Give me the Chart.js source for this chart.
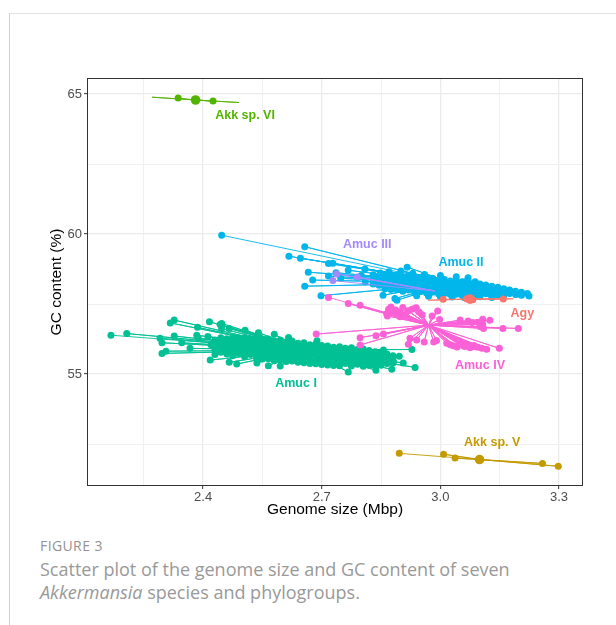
<!DOCTYPE html>
<html>
<head>
<meta charset="utf-8">
<script src="https://cdn.jsdelivr.net/npm/chart.js@4.4.1/dist/chart.umd.min.js"></script>
<style>
  body { margin: 0; background: #fff; width: 616px; height: 625px; position: relative; overflow: hidden; font-family: "Open Sans", sans-serif; }
  #frame { position: absolute; left: 9px; top: 13px; right: 0; bottom: 0; border-top: 1px solid #e2e2e2; border-left: 1px solid #d0d0d0; }
  #chart { position: absolute; left: 0; top: 0; }
  .fig { position: absolute; left: 40px; top: 536px; font-size: 14px; line-height: 19px; color: #939393; letter-spacing: 0.4px; }
  .cap { position: absolute; left: 40px; top: 558px; font-size: 18px; line-height: 23px; color: #999999; width: 570px; }
</style>
</head>
<body>
<div id="frame"></div>
<canvas id="chart" width="616" height="530"></canvas>
<div class="fig">FIGURE 3</div>
<div class="cap">Scatter plot of the genome size and GC content of seven<br><i>Akkermansia</i> species and phylogroups.</div>
<script>
// axis ticks
const xMajorTicks = [2.4, 2.7, 3.0, 3.3];
const xMinorTicks = [2.25, 2.55, 2.85, 3.15];
const yMajorTicks = [55, 60, 65];
const yMinorTicks = [52.5, 57.5, 62.5];

// groups (ggplot hue palette order)
const groupNames = ['Agy', 'Akk sp. V', 'Akk sp. VI', 'Amuc I', 'Amuc II', 'Amuc III', 'Amuc IV'];
const groupColors = ['#F8766D', '#C49A00', '#53B400', '#00C094', '#00B6EB', '#A58AFF', '#FB61D7'];
// where each group name is printed, in data units
const labelAnchors = [[3.207, 57.18], [3.131, 52.54], [2.506, 64.25], [2.635, 54.68], [3.052, 59.0], [2.815, 59.61], [3.100, 55.32]];

// genome size (Mbp), GC content (%)
const agyGenomes = [[3.007, 57.67], [3.066, 57.69], [3.082, 57.66], [3.159, 57.68]];
const agyUnmarked = [[2.969, 57.64], [3.184, 57.69]];
const agyCentroid = [3.075, 57.68];

const akkVGenomes = [[2.896, 52.17], [3.008, 52.14], [3.037, 52.00], [3.258, 51.81], [3.298, 51.71]];
const akkVCentroid = [3.099, 51.95];

const akkVIGenomes = [[2.337, 64.86], [2.425, 64.75]];
const akkVIUnmarked = [[2.271, 64.89], [2.491, 64.70]];
const akkVICentroid = [2.381, 64.79];

const amucIGenomes = [
  [2.167, 56.39], [2.207, 56.45], [2.317, 56.83], [2.327, 56.93], [2.291, 56.28], [2.296, 56.12], [2.327, 56.36],
  [2.346, 56.12], [2.367, 55.92], [2.388, 56.28], [2.386, 56.67], [2.416, 56.87], [2.447, 56.81], [2.447, 56.63],
  [2.296, 55.74], [2.306, 55.82], [2.418, 55.50], [2.466, 55.42], [2.485, 55.36], [2.536, 55.40], [2.565, 55.30],
  [2.595, 55.29], [2.506, 56.57], [2.616, 56.31], [2.688, 56.19], [2.688, 56.04], [2.856, 55.86], [2.896, 55.64],
  [2.928, 55.88], [2.881, 55.44], [2.906, 55.40], [2.936, 55.24], [2.877, 55.17], [2.837, 55.14], [2.767, 55.08],
  [2.466, 56.63], [2.384, 56.39], [2.443, 56.77], [2.540, 56.48], [2.580, 56.42], [2.412, 56.34], [2.420, 56.05],
  [2.430, 56.22], [2.430, 56.05], [2.430, 55.88], [2.430, 55.70],
  [2.445, 56.30], [2.445, 56.12], [2.445, 55.95], [2.445, 55.78],
  [2.460, 56.26], [2.460, 56.08], [2.460, 55.90], [2.460, 55.72],
  [2.475, 56.32], [2.475, 56.15], [2.475, 55.97], [2.475, 55.79], [2.475, 55.66],
  [2.490, 56.28], [2.490, 56.10], [2.490, 55.92], [2.490, 55.74],
  [2.505, 56.30], [2.505, 56.12], [2.505, 55.94], [2.505, 55.76], [2.505, 55.62],
  [2.520, 56.25], [2.520, 56.07], [2.520, 55.89], [2.520, 55.70],
  [2.535, 56.28], [2.535, 56.10], [2.535, 55.92], [2.535, 55.74], [2.535, 55.58],
  [2.550, 56.22], [2.550, 56.04], [2.550, 55.86], [2.550, 55.68], [2.550, 55.54],
  [2.565, 56.25], [2.565, 56.07], [2.565, 55.89], [2.565, 55.71], [2.565, 55.55],
  [2.580, 56.18], [2.580, 56.00], [2.580, 55.82], [2.580, 55.64], [2.580, 55.48],
  [2.595, 56.22], [2.595, 56.04], [2.595, 55.86], [2.595, 55.68], [2.595, 55.50],
  [2.610, 56.15], [2.610, 55.97], [2.610, 55.79], [2.610, 55.61], [2.610, 55.45],
  [2.625, 56.18], [2.625, 56.00], [2.625, 55.82], [2.625, 55.64], [2.625, 55.47],
  [2.640, 56.10], [2.640, 55.92], [2.640, 55.74], [2.640, 55.56], [2.640, 55.42],
  [2.655, 56.12], [2.655, 55.94], [2.655, 55.76], [2.655, 55.58], [2.655, 55.41],
  [2.670, 56.05], [2.670, 55.87], [2.670, 55.69], [2.670, 55.51], [2.670, 55.38],
  [2.685, 56.08], [2.685, 55.90], [2.685, 55.72], [2.685, 55.54], [2.685, 55.37],
  [2.700, 56.02], [2.700, 55.84], [2.700, 55.66], [2.700, 55.48], [2.700, 55.34],
  [2.715, 56.00], [2.715, 55.82], [2.715, 55.64], [2.715, 55.46], [2.715, 55.33],
  [2.730, 55.96], [2.730, 55.78], [2.730, 55.60], [2.730, 55.42], [2.730, 55.31],
  [2.745, 55.98], [2.745, 55.80], [2.745, 55.62], [2.745, 55.44], [2.745, 55.30],
  [2.760, 55.92], [2.760, 55.74], [2.760, 55.56], [2.760, 55.38],
  [2.775, 55.94], [2.775, 55.76], [2.775, 55.58], [2.775, 55.40], [2.775, 55.29],
  [2.790, 55.88], [2.790, 55.70], [2.790, 55.52], [2.790, 55.35],
  [2.805, 55.90], [2.805, 55.72], [2.805, 55.54], [2.805, 55.36], [2.805, 55.28],
  [2.820, 55.84], [2.820, 55.66], [2.820, 55.48], [2.820, 55.32],
  [2.835, 55.80], [2.835, 55.62], [2.835, 55.44], [2.835, 55.30],
  [2.850, 55.76], [2.850, 55.58], [2.850, 55.40], [2.850, 55.32],
  [2.865, 55.72], [2.865, 55.54], [2.865, 55.38],
  [2.880, 55.66], [2.880, 55.50], [2.880, 55.40]
];
const amucICentroid = [2.658, 55.86];

const amucIIGenomes = [
  [2.447, 59.96], [2.657, 59.55], [2.617, 59.21], [2.646, 59.14], [2.717, 58.95], [2.728, 58.96], [2.666, 58.64],
  [2.717, 58.50], [2.736, 58.62], [2.677, 58.36], [2.657, 58.14], [2.698, 57.80], [2.748, 58.42], [2.767, 58.71],
  [2.809, 58.75], [2.848, 58.61], [2.916, 58.82], [2.855, 57.82], [2.890, 57.64], [2.885, 57.70], [2.875, 58.02],
  [3.088, 58.30], [3.169, 57.96], [3.196, 57.86], [3.224, 57.79], [2.790, 58.45], [2.810, 58.30], [2.800, 58.52],
  [2.870, 58.66], [2.900, 58.68], [2.930, 58.60], [2.960, 58.56], [3.000, 58.52], [3.040, 58.48], [3.070, 58.44],
  [2.940, 57.80], [2.970, 57.78], [3.000, 57.76], [3.030, 57.75], [3.060, 57.74], [3.100, 57.76], [3.130, 57.74],
  [2.830, 58.55], [2.830, 58.38], [2.830, 58.22],
  [2.845, 58.50], [2.845, 58.33], [2.845, 58.17],
  [2.860, 58.55], [2.860, 58.38], [2.860, 58.21], [2.860, 58.05],
  [2.875, 58.48], [2.875, 58.32], [2.875, 58.15],
  [2.890, 58.52], [2.890, 58.35], [2.890, 58.18], [2.890, 58.02],
  [2.905, 58.46], [2.905, 58.29], [2.905, 58.12], [2.905, 57.96],
  [2.920, 58.50], [2.920, 58.33], [2.920, 58.16], [2.920, 58.00],
  [2.935, 58.43], [2.935, 58.26], [2.935, 58.09], [2.935, 57.93],
  [2.950, 58.46], [2.950, 58.29], [2.950, 58.12], [2.950, 57.95],
  [2.965, 58.40], [2.965, 58.23], [2.965, 58.06], [2.965, 57.90],
  [2.980, 58.42], [2.980, 58.25], [2.980, 58.08], [2.980, 57.92],
  [2.995, 58.36], [2.995, 58.19], [2.995, 58.02], [2.995, 57.87],
  [3.010, 58.38], [3.010, 58.21], [3.010, 58.04], [3.010, 57.88],
  [3.025, 58.33], [3.025, 58.16], [3.025, 57.99], [3.025, 57.84],
  [3.040, 58.35], [3.040, 58.18], [3.040, 58.01], [3.040, 57.85],
  [3.055, 58.30], [3.055, 58.13], [3.055, 57.96], [3.055, 57.82],
  [3.070, 58.32], [3.070, 58.15], [3.070, 57.98], [3.070, 57.83],
  [3.085, 58.25], [3.085, 58.09], [3.085, 57.93], [3.085, 57.80],
  [3.100, 58.22], [3.100, 58.06], [3.100, 57.90],
  [3.115, 58.18], [3.115, 58.02], [3.115, 57.87],
  [3.130, 58.14], [3.130, 57.98], [3.130, 57.84],
  [3.145, 58.10], [3.145, 57.95], [3.145, 57.82],
  [3.160, 58.05], [3.160, 57.91], [3.160, 57.80],
  [3.175, 58.00], [3.175, 57.88],
  [3.190, 57.96], [3.190, 57.84],
  [3.205, 57.92], [3.205, 57.82],
  [3.220, 57.88]
];
const amucIICentroid = [3.030, 58.25];

const amucIIIGenomes = [[2.728, 58.34], [2.738, 58.58], [2.790, 58.47]];
const amucIIICentroid = [2.985, 57.97];

const amucIVGenomes = [
  [2.717, 57.74], [2.767, 57.52], [2.797, 57.46], [2.869, 57.32], [2.866, 57.08], [2.898, 57.23], [2.928, 57.32],
  [2.936, 57.35], [2.954, 57.12], [2.993, 57.25], [2.998, 56.95], [2.979, 57.08], [3.050, 56.93], [3.107, 56.96],
  [3.109, 56.63], [3.107, 56.78], [3.158, 56.63], [3.197, 56.63], [3.080, 56.84], [3.096, 56.85], [2.686, 56.43],
  [2.797, 56.30], [2.797, 56.04], [2.837, 56.37], [2.856, 56.43], [2.923, 56.28], [2.919, 56.07], [2.959, 56.15],
  [2.983, 56.15], [3.016, 56.10], [3.033, 56.01], [3.054, 56.13], [3.058, 56.01], [3.088, 55.98], [3.117, 55.89],
  [3.149, 55.92], [3.042, 55.97], [2.887, 57.29], [2.898, 57.05], [2.864, 57.16], [2.939, 57.37], [2.887, 57.16],
  [2.912, 57.13], [3.025, 56.05], [3.062, 55.99], [3.075, 55.94], [3.085, 56.02], [2.875, 57.40], [2.905, 57.38],
  [2.880, 57.22], [2.918, 57.26], [2.946, 57.22], [3.070, 56.90], [3.125, 56.92], [3.100, 56.70], [3.068, 56.06],
  [3.048, 56.06], [3.095, 55.96], [3.105, 55.92], [2.990, 56.20], [2.940, 56.22]
];
const amucIVCentroid = [2.970, 56.75];

// bottom-to-top drawing order
const layers = [
  { g: 3, genomes: amucIGenomes, unmarked: [], centroid: amucICentroid, bigDot: false },
  { g: 4, genomes: amucIIGenomes, unmarked: [], centroid: amucIICentroid, bigDot: false },
  { g: 5, genomes: amucIIIGenomes, unmarked: [], centroid: amucIIICentroid, bigDot: false },
  { g: 6, genomes: amucIVGenomes, unmarked: [], centroid: amucIVCentroid, bigDot: false },
  { g: 1, genomes: akkVGenomes, unmarked: [], centroid: akkVCentroid, bigDot: true },
  { g: 2, genomes: akkVIGenomes, unmarked: akkVIUnmarked, centroid: akkVICentroid, bigDot: true },
  { g: 0, genomes: agyGenomes, unmarked: agyUnmarked, centroid: agyCentroid, bigDot: true }
];

const xy = p => ({ x: p[0], y: p[1] });
const datasets = [];
let order = 100;
layers.forEach(l => {
  const color = groupColors[l.g];
  // spokes: genome -> centroid, drawn as one polyline that keeps returning to the centroid
  const spokes = [];
  l.genomes.concat(l.unmarked).forEach(p => { spokes.push(xy(p)); spokes.push(xy(l.centroid)); });
  datasets.push({ label: groupNames[l.g] + ' spokes', data: spokes, showLine: true, borderColor: color,
    borderWidth: 0.9, pointRadius: 0, borderJoinStyle: 'bevel', order: order-- });
  datasets.push({ label: groupNames[l.g], data: l.genomes.map(xy), backgroundColor: color, borderWidth: 0,
    pointRadius: 3.5, order: order-- });
  if (l.bigDot) {
    datasets.push({ label: groupNames[l.g] + ' centre', data: [xy(l.centroid)], backgroundColor: color,
      borderWidth: 0, pointRadius: 4.8, order: order-- });
  }
});

const decorations = {
  id: 'decorations',
  afterDatasetsDraw(chart) {
    const { ctx, chartArea: a, scales: { x, y } } = chart;
    ctx.save();
    ctx.strokeStyle = '#333333';
    ctx.lineWidth = 1;
    ctx.strokeRect(a.left - 0.5, a.top - 0.5, a.right - a.left + 1, a.bottom - a.top + 1);
    ctx.textAlign = 'center';
    ctx.textBaseline = 'middle';
    ctx.font = 'bold 12.5px "Liberation Sans", Arial, sans-serif';
    groupNames.forEach((n, i) => {
      ctx.fillStyle = groupColors[i];
      ctx.fillText(n, x.getPixelForValue(labelAnchors[i][0]), y.getPixelForValue(labelAnchors[i][1]));
    });
    ctx.fillStyle = '#000';
    ctx.font = '15.5px "Liberation Sans", Arial, sans-serif';
    ctx.fillText('Genome size (Mbp)', (a.left + a.right) / 2, a.bottom + 25);
    ctx.translate(57, (a.top + a.bottom) / 2);
    ctx.rotate(-Math.PI / 2);
    ctx.fillText('GC content (%)', 0, 0);
    ctx.restore();
  }
};

const isMajor = (list, v) => list.some(t => Math.abs(t - v) < 1e-6);
const tickFont = { family: '"Liberation Sans", Arial, sans-serif', size: 13 };

new Chart(document.getElementById('chart'), {
  type: 'scatter',
  data: { datasets },
  options: {
    responsive: false,
    animation: false,
    devicePixelRatio: 1,
    layout: { padding: { top: 79, right: 34, left: 0, bottom: 0 } },
    plugins: { legend: { display: false }, tooltip: { enabled: false } },
    scales: {
      x: {
        type: 'linear', min: 2.109, max: 3.358,
        afterBuildTicks: s => { s.ticks = xMajorTicks.concat(xMinorTicks).sort((p, q) => p - q).map(v => ({ value: v })); },
        afterFit: s => { s.height = 45; },
        border: { display: false },
        grid: {
          color: c => isMajor(xMajorTicks, c.tick.value) ? '#EBEBEB' : '#F0F0F0',
          lineWidth: c => isMajor(xMajorTicks, c.tick.value) ? 1.3 : 1,
          tickColor: c => isMajor(xMajorTicks, c.tick.value) ? '#333333' : 'rgba(0,0,0,0)',
          tickLength: 4, tickWidth: 1
        },
        ticks: {
          autoSkip: false, maxRotation: 0, padding: 1, color: '#4D4D4D', font: tickFont,
          callback: v => isMajor(xMajorTicks, v) ? v.toFixed(1) : ''
        }
      },
      y: {
        type: 'linear', min: 51.04, max: 65.54,
        afterBuildTicks: s => { s.ticks = yMajorTicks.concat(yMinorTicks).sort((p, q) => p - q).map(v => ({ value: v })); },
        afterFit: s => { s.width = 88; },
        border: { display: false },
        grid: {
          color: c => isMajor(yMajorTicks, c.tick.value) ? '#EBEBEB' : '#F0F0F0',
          lineWidth: c => isMajor(yMajorTicks, c.tick.value) ? 1.3 : 1,
          tickColor: c => isMajor(yMajorTicks, c.tick.value) ? '#333333' : 'rgba(0,0,0,0)',
          tickLength: 4, tickWidth: 1
        },
        ticks: {
          autoSkip: false, padding: 2, color: '#4D4D4D', font: tickFont,
          callback: v => isMajor(yMajorTicks, v) ? String(v) : ''
        }
      }
    }
  },
  plugins: [decorations]
});
</script>
</body>
</html>
